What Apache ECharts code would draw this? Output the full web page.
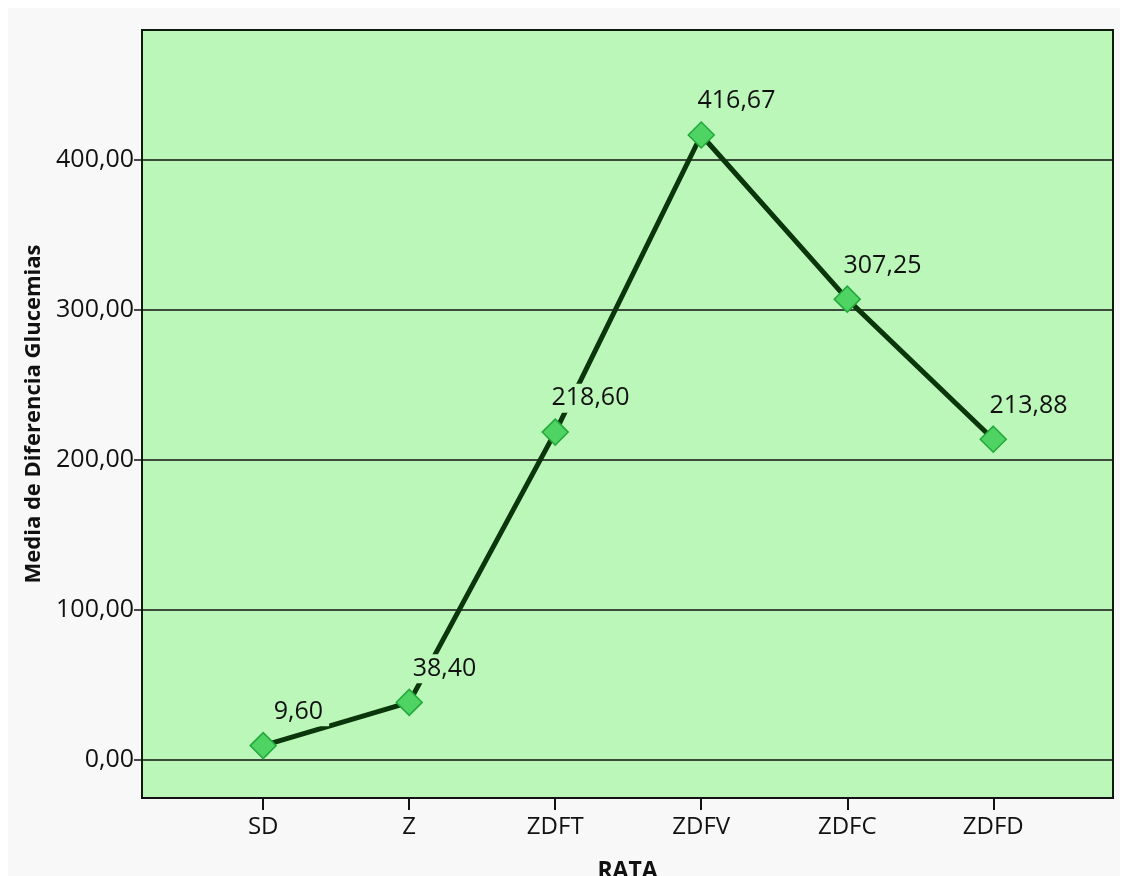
<!DOCTYPE html>
<html>
<head>
<meta charset="utf-8">
<script src="https://cdn.jsdelivr.net/npm/echarts@6/dist/echarts.min.js"></script>
<style>
  html, body { margin: 0; padding: 0; background: #ffffff; }
  #chart { position: absolute; left: 8px; top: 8px; width: 1112px; height: 868px; background: #f8f8f8; }
</style>
</head>
<body>
<div id="chart"></div>
<script>
/* ================================
   DATA
================================ */
const categories = ["SD", "Z", "ZDFT", "ZDFV", "ZDFC", "ZDFD"];
const means      = [9.60, 38.40, 218.60, 416.67, 307.25, 213.88];
const yTicks     = [0, 100, 200, 300, 400];

const fmt = v => v.toFixed(2).replace(".", ",");
const FONT = "Open Sans";
const PLOT_BG = "#bbf7b9";

/* ================================
   CHART
================================ */
const chart = echarts.init(document.getElementById("chart"));

chart.setOption({
  animation: false,
  textStyle: { fontFamily: FONT },
  grid: {
    left: 134, top: 22, width: 971, height: 768,
    outerBoundsMode: "none",
    containLabel: false,
    show: true,
    backgroundColor: PLOT_BG,
    borderColor: "#0d1a0d",
    borderWidth: 2
  },
  xAxis: {
    type: "value",
    min: -0.83,
    max: 5.82,
    name: "RATA",
    nameLocation: "middle",
    nameGap: 62,
    nameTextStyle: { fontFamily: FONT, fontWeight: "bold", fontSize: 23, color: "#111" },
    axisLine: { show: true, onZero: false, lineStyle: { color: "#111", width: 2 } },
    axisTick: { show: true, length: 12, customValues: categories.map((c, i) => i),
                lineStyle: { color: "#111", width: 2 } },
    axisLabel: { customValues: categories.map((c, i) => i), formatter: v => categories[Math.round(v)],
                 fontSize: 24, color: "#111", margin: 17 },
    splitLine: { show: false }
  },
  yAxis: {
    type: "value",
    min: -25.33,
    max: 486.67,
    name: "Media de Diferencia Glucemias",
    nameLocation: "middle",
    nameGap: 96,
    nameRotate: 90,
    nameTextStyle: { fontFamily: FONT, fontWeight: "bold", fontSize: 22, color: "#111" },
    axisLine: { show: false, onZero: false },
    axisTick: { show: true, length: 8, customValues: yTicks, lineStyle: { color: "#111", width: 1.5 } },
    axisLabel: { customValues: yTicks, formatter: v => fmt(v), fontSize: 25, color: "#111", margin: 8 },
    splitLine: { show: true, lineStyle: { color: "#111", width: 1.5 } }
  },
  series: [{
    type: "line",
    data: means.map((v, i) => [i, v]),
    symbol: "diamond",
    symbolSize: 26,
    itemStyle: { color: "#4fd363", borderColor: "#22a93b", borderWidth: 1.5 },
    lineStyle: { color: "#0b350a", width: 5 },
    z: 3,
    label: {
      show: true,
      position: [49, -20],
      align: "center",
      verticalAlign: "middle",
      formatter: p => fmt(p.value[1]),
      fontFamily: FONT,
      fontSize: 25,
      color: "#111",
      backgroundColor: PLOT_BG,
      padding: [2, 6]
    }
  }]
});
</script>
</body>
</html>
